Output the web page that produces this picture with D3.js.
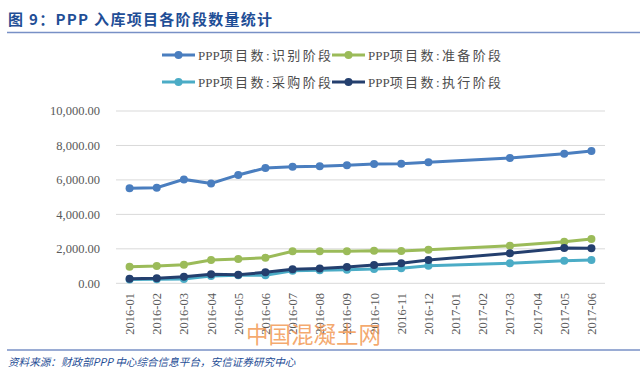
<!DOCTYPE html>
<html>
<head>
<meta charset="utf-8">
<script src="https://cdn.jsdelivr.net/npm/d3@7"></script>
<style>
  body { margin: 0; background: #fff; }
  svg { display: block; }
</style>
</head>
<body>
<div id="chart"></div>
<script>
// months on the x axis (2017-01, -02, -04 have no data points)
var months = ["2016-01","2016-02","2016-03","2016-04","2016-05","2016-06","2016-07","2016-08","2016-09",
  "2016-10","2016-11","2016-12","2017-01","2017-02","2017-03","2017-04","2017-05","2017-06"];

var identify = [5520, 5550, 6030, 5790, 6290, 6690, 6770, 6790, 6855, 6920, 6940, 7020, null, null, 7270, null, 7520, 7680];
var prepare  = [960, 1000, 1080, 1350, 1410, 1480, 1860, 1860, 1860, 1890, 1875, 1950, null, null, 2180, null, 2410, 2570];
var procure  = [220, 240, 250, 420, 460, 470, 730, 760, 790, 830, 880, 1020, null, null, 1160, null, 1310, 1350];
var execute  = [270, 290, 380, 520, 490, 640, 810, 860, 940, 1060, 1160, 1350, null, null, 1740, null, 2050, 2030];

var yTicks = [0, 2000, 4000, 6000, 8000, 10000];

var series = [
  {name: "PPP项目数:识别阶段", values: identify, color: "#4a7ebf"},
  {name: "PPP项目数:准备阶段", values: prepare, color: "#9bbb59"},
  {name: "PPP项目数:采购阶段", values: procure, color: "#4bacc6"},
  {name: "PPP项目数:执行阶段", values: execute, color: "#243f6e"}
];

var width = 640, height = 378;
var serif = "'Liberation Serif', 'Noto Sans CJK SC', serif";

var svg = d3.select("#chart").append("svg")
  .attr("width", width)
  .attr("height", height);

// title + rules
svg.append("text")
  .attr("x", 8).attr("y", 25)
  .attr("fill", "#1f4e96")
  .style("font-family", "'Noto Sans CJK SC', sans-serif")
  .style("font-weight", "bold")
  .style("font-size", "15px")
  .style("letter-spacing", "1.3px")
  .text("图 9：PPP 入库项目各阶段数量统计");

svg.append("line")
  .attr("x1", 7).attr("x2", 640).attr("y1", 32.5).attr("y2", 32.5)
  .attr("stroke", "#7890c6").attr("stroke-width", 1.5);

svg.append("line")
  .attr("x1", 7).attr("x2", 640).attr("y1", 350).attr("y2", 350)
  .attr("stroke", "#7890c6").attr("stroke-width", 1.5);

svg.append("text")
  .attr("x", 8).attr("y", 366)
  .attr("fill", "#1f4e96")
  .style("font-family", "'Noto Sans CJK SC', sans-serif")
  .style("font-style", "italic")
  .style("font-size", "10.6px")
  .text("资料来源：财政部PPP 中心综合信息平台，安信证券研究中心");

// scales
var x = d3.scaleBand().domain(months).range([116, 605]).padding(0);
var y = d3.scaleLinear().domain([0, 10000]).range([283.3, 111]);
var cx = function(m) { return x(m) + x.bandwidth() / 2; };

// gridlines
svg.append("g").selectAll("line")
  .data(yTicks).enter().append("line")
  .attr("x1", 116).attr("x2", 605)
  .attr("y1", d => y(d)).attr("y2", d => y(d))
  .attr("stroke", "#d9d9d9").attr("stroke-width", 1);

// y labels
svg.append("g").selectAll("text")
  .data(yTicks).enter().append("text")
  .attr("x", 100).attr("y", d => y(d))
  .attr("dy", "0.35em")
  .attr("text-anchor", "end")
  .attr("fill", "#595959")
  .style("font-family", serif)
  .style("font-size", "12.5px")
  .text(d => d3.format(",.2f")(d));

// x labels, rotated
svg.append("g").selectAll("text")
  .data(months).enter().append("text")
  .attr("transform", d => "translate(" + (cx(d) + 4.5) + ",293) rotate(-90)")
  .attr("text-anchor", "end")
  .attr("fill", "#595959")
  .style("font-family", serif)
  .style("font-size", "12.5px")
  .text(d => d);

// lines + markers
var line = d3.line()
  .x(d => cx(d.m))
  .y(d => y(d.v));

series.forEach(function(s) {
  var pts = months.map((m, i) => ({m: m, v: s.values[i]})).filter(d => d.v != null);
  var g = svg.append("g");
  g.append("path")
    .datum(pts)
    .attr("d", line)
    .attr("fill", "none")
    .attr("stroke", s.color)
    .attr("stroke-width", 3);
  g.selectAll("circle")
    .data(pts).enter().append("circle")
    .attr("cx", d => cx(d.m))
    .attr("cy", d => y(d.v))
    .attr("r", 4)
    .attr("fill", s.color);
});

// legend
var legendPos = [[162, 55], [332, 55], [162, 82], [332, 82]];
series.forEach(function(s, i) {
  var lg = svg.append("g").attr("transform", "translate(" + legendPos[i][0] + "," + legendPos[i][1] + ")");
  lg.append("line")
    .attr("x1", 0).attr("x2", 33).attr("y1", 0).attr("y2", 0)
    .attr("stroke", s.color).attr("stroke-width", 3);
  lg.append("circle").attr("cx", 16.5).attr("cy", 0).attr("r", 4).attr("fill", s.color);
  var t = lg.append("text")
    .attr("x", 36).attr("y", 0).attr("dy", "0.35em")
    .attr("fill", "#4d4d4d")
    .style("font-family", serif)
    .style("font-size", "13px");
  t.append("tspan").text(s.name.slice(0, 3));
  t.append("tspan").style("letter-spacing", "2.4px").text(s.name.slice(3));
});

// watermark
svg.append("text")
  .attr("x", 246).attr("y", 343)
  .attr("fill", "#f29a55")
  .attr("fill-opacity", 0.85)
  .style("font-family", "'Noto Sans CJK SC', sans-serif")
  .style("font-size", "22.5px")
  .text("中国混凝土网");
</script>
</body>
</html>
